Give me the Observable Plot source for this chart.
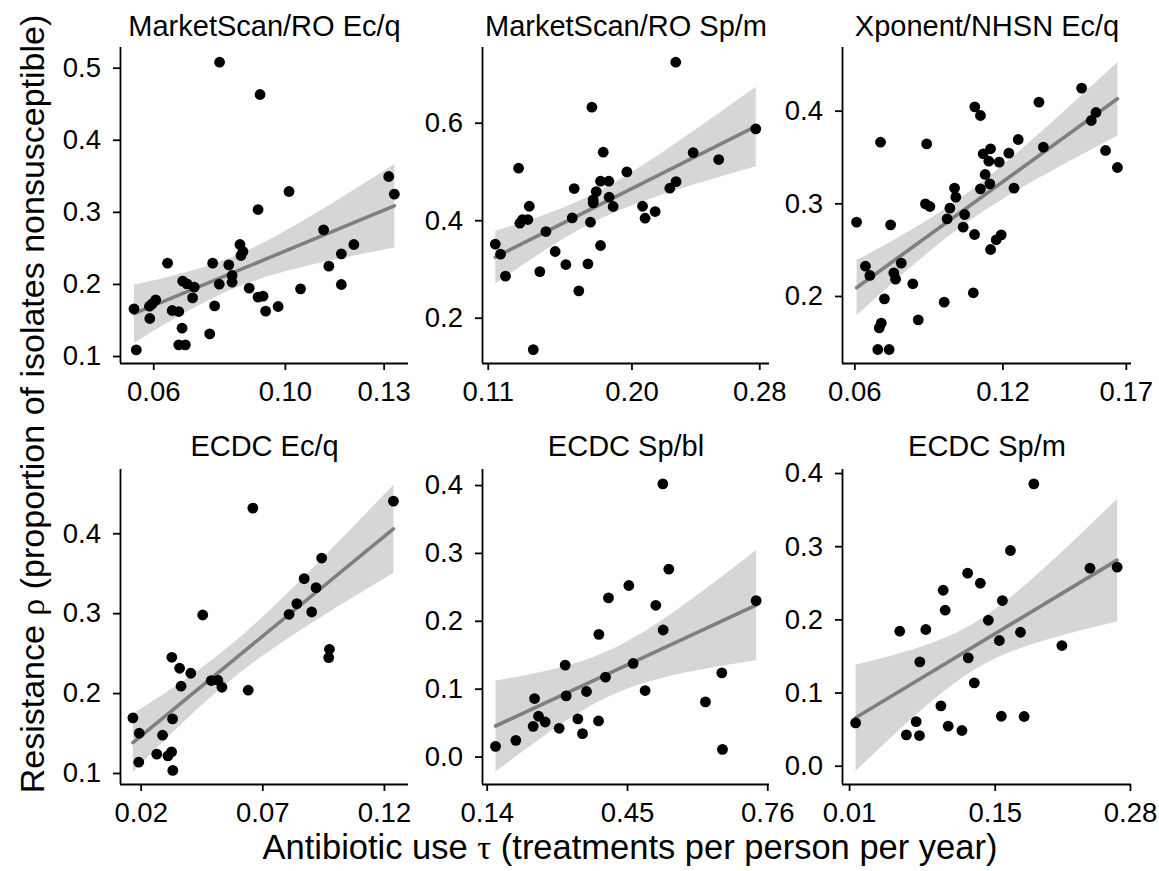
<!DOCTYPE html>
<html><head><meta charset="utf-8">
<script src="https://cdn.jsdelivr.net/npm/d3@7"></script>
<script src="https://cdn.jsdelivr.net/npm/@observablehq/plot@0.6"></script>
<style>
html,body{margin:0;padding:0;background:#fff;}
#chart{position:relative;width:1159px;height:871px;overflow:hidden;background:#fff;}
#chart svg{position:absolute;}
</style></head><body><div id="chart"></div>
<script>
const FONT = "'Liberation Sans', Arial, Helvetica, sans-serif";
const SERIF = "'Liberation Serif', 'DejaVu Serif', serif";

const titles = ["MarketScan/RO Ec/q", "MarketScan/RO Sp/m", "Xponent/NHSN Ec/q", "ECDC Ec/q", "ECDC Sp/bl", "ECDC Sp/m"];
const xLabelParts = ["Antibiotic use ", "τ", " (treatments per person per year)"];
const yLabelParts = ["Resistance ", "ρ", " (proportion of isolates nonsusceptible)"];

const p1x = [0.0800,0.0923,0.1314,0.1331,0.1011,0.0917,0.1116,0.0862,0.1208,0.0871,0.0865,0.1170,0.0642,0.0779,0.0828,0.1132,0.0838,0.0838,0.0688,0.0701,0.0723,0.0799,0.0890,0.1170,0.1046,0.0718,0.0606,0.0595,0.0587,0.0540,0.0917,0.0932,0.0940,0.0978,0.0785,0.0656,0.0676,0.0588,0.0686,0.0770,0.0676,0.0696,0.0547];
const p1y = [0.5083,0.4635,0.3497,0.3252,0.3289,0.3039,0.2757,0.2554,0.2554,0.2457,0.2401,0.2424,0.2295,0.2295,0.2272,0.2253,0.2124,0.2031,0.2045,0.2008,0.1962,0.2003,0.1948,0.1999,0.1939,0.1814,0.1786,0.1731,0.1698,0.1661,0.1823,0.1837,0.1629,0.1694,0.1703,0.1638,0.1624,0.1527,0.1393,0.1314,0.1162,0.1162,0.1092];

const p2x = [0.2274,0.1749,0.2775,0.1290,0.1820,0.2383,0.2543,0.1968,0.1803,0.1855,0.2276,0.2237,0.1638,0.1776,0.1857,0.1757,0.1757,0.1882,0.2066,0.1357,0.2145,0.2082,0.1626,0.1315,0.1348,0.1298,0.1740,0.1461,0.1144,0.1803,0.1177,0.1519,0.1586,0.1724,0.1208,0.1423,0.1667,0.1382];
const p2y = [0.7251,0.6328,0.5884,0.5077,0.5405,0.5398,0.5255,0.5002,0.4810,0.4810,0.4803,0.4667,0.4660,0.4598,0.4482,0.4427,0.4366,0.4291,0.4297,0.4297,0.4188,0.4051,0.4058,0.4024,0.4024,0.3949,0.3969,0.3778,0.3518,0.3491,0.3313,0.3368,0.3101,0.3115,0.2862,0.2957,0.2561,0.1357];

const p3x = [0.1519,0.1346,0.1086,0.1109,0.1577,0.1558,0.0704,0.0891,0.1262,0.1364,0.1616,0.1664,0.1150,0.1120,0.1224,0.1143,0.1185,0.1128,0.1147,0.1109,0.1245,0.1004,0.1009,0.0886,0.0904,0.0985,0.0974,0.1045,0.1039,0.1085,0.1193,0.1173,0.1150,0.0607,0.0745,0.0643,0.0661,0.0788,0.0758,0.0765,0.0835,0.0720,0.1080,0.0962,0.0857,0.0707,0.0699,0.0693,0.0739];
const p3y = [0.4248,0.4097,0.4047,0.3953,0.3986,0.3899,0.3665,0.3647,0.3694,0.3612,0.3576,0.3392,0.3594,0.3540,0.3547,0.3460,0.3450,0.3317,0.3216,0.3162,0.3169,0.3169,0.3072,0.3000,0.2971,0.2953,0.2838,0.2885,0.2748,0.2669,0.2665,0.2612,0.2507,0.2802,0.2773,0.2327,0.2227,0.2360,0.2255,0.2187,0.2137,0.1975,0.2040,0.1939,0.1748,0.1712,0.1662,0.1428,0.1428];

const p4x = [0.1237,0.0659,0.0942,0.0870,0.0919,0.0840,0.0808,0.0901,0.0453,0.0974,0.0971,0.0326,0.0358,0.0404,0.0364,0.0488,0.0515,0.0532,0.0640,0.0166,0.0329,0.0192,0.0288,0.0264,0.0310,0.0325,0.0190,0.0330];
const p4y = [0.4408,0.4321,0.3696,0.3438,0.3325,0.3125,0.2992,0.3021,0.2983,0.2554,0.2450,0.2454,0.2317,0.2254,0.2092,0.2163,0.2167,0.2079,0.2042,0.1696,0.1683,0.1504,0.1479,0.1242,0.1221,0.1271,0.1142,0.1038];

const p5x = [0.5281,0.5413,0.4530,0.4080,0.7343,0.5126,0.5288,0.3867,0.4625,0.3123,0.6584,0.4014,0.4890,0.3594,0.3145,0.2446,0.6223,0.2534,0.2681,0.2416,0.2991,0.3403,0.3860,0.3506,0.2033,0.1584,0.6599];
const p5y = [0.4025,0.2768,0.2527,0.2345,0.2305,0.2236,0.1872,0.1808,0.1379,0.1355,0.1241,0.1177,0.0980,0.0966,0.0901,0.0862,0.0813,0.0601,0.0517,0.0453,0.0424,0.0562,0.0532,0.0345,0.0246,0.0158,0.0113];

const p6x = [0.1871,0.1646,0.2411,0.2672,0.1235,0.1357,0.1000,0.1569,0.1019,0.1434,0.0582,0.0833,0.1743,0.1540,0.2141,0.0775,0.1241,0.1299,0.0978,0.1559,0.1778,0.0158,0.0740,0.1048,0.1180,0.0646,0.0772];
const p6y = [0.3859,0.2948,0.2706,0.2720,0.2638,0.2501,0.2405,0.2264,0.2132,0.1995,0.1845,0.1868,0.1831,0.1718,0.1649,0.1426,0.1481,0.1139,0.0825,0.0683,0.0679,0.0592,0.0610,0.0547,0.0488,0.0428,0.0419];

const xTicks = [[0.06,0.10,0.13],[0.11,0.20,0.28],[0.06,0.12,0.17],[0.02,0.07,0.12],[0.14,0.45,0.76],[0.01,0.15,0.28]];
const yTicks = [[0.1,0.2,0.3,0.4,0.5],[0.2,0.4,0.6],[0.2,0.3,0.4],[0.1,0.2,0.3,0.4],[0.0,0.1,0.2,0.3,0.4],[0.0,0.1,0.2,0.3,0.4]];

const xs = [p1x,p2x,p3x,p4x,p5x,p6x];
const ys = [p1y,p2y,p3y,p4y,p5y,p6y];

// scale domains (ggplot-style expanded ranges)
const xDomains = [[0.0499,0.1374],[0.1064,0.2861],[0.0550,0.1721],[0.0115,0.1299],[0.1296,0.7638],[0.0032,0.2810]];
const yDomains = [[0.0903,0.5287],[0.1071,0.7553],[0.1277,0.4687],[0.0862,0.4804],[-0.0404,0.4236],[-0.025,0.4055]];

// layout
const colLeft = [120,482,842], colW = [288,287,289];
const rowTop = [47,469], rowH = [316,315], titleGap = [12,14];
const mL = 110, mR = 26, mT = 50, mB = 60;

const chart = document.getElementById("chart");

for (let i = 0; i < 6; i++) {
  const r = Math.floor(i/3), c = i % 3;
  const data = xs[i].map((x, k) => ({x, y: ys[i][k]}));
  const xd = xDomains[i], yd = yDomains[i];
  const svg = Plot.plot({
    width: mL + colW[c] + mR,
    height: mT + rowH[r] + mB,
    marginLeft: mL, marginRight: mR, marginTop: mT, marginBottom: mB,
    style: {fontFamily: FONT, fontSize: "27.5px", color: "#000", background: "transparent", overflow: "visible"},
    x: {domain: xd},
    y: {domain: yd},
    marks: [
      Plot.linearRegressionY(data, {x: "x", y: "y", ci: 0.95, stroke: "#7f7f7f", strokeWidth: 3.6, fill: "#999999", fillOpacity: 0.4}),
      Plot.dot(data, {x: "x", y: "y", r: 5.4, fill: "#000"}),
      Plot.ruleX([xd[0]], {stroke: "#000", strokeWidth: 1.8}),
      Plot.ruleY([yd[0]], {stroke: "#000", strokeWidth: 1.8}),
      Plot.axisX(xTicks[i], {tickSize: 7, tickPadding: 10.5, tickFormat: d3.format(".2f"), strokeWidth: 1.8, label: null, fontSize: 27.5}),
      Plot.axisY(yTicks[i], {tickSize: 7, tickPadding: 12.5, tickFormat: d3.format(".1f"), strokeWidth: 1.8, label: null, fontSize: 27.5}),
      Plot.text([titles[i]], {frameAnchor: "top", dy: -titleGap[r], lineAnchor: "bottom", fontSize: 29})
    ]
  });
  svg.style.left = (colLeft[c] - mL) + "px";
  svg.style.top = (rowTop[r] - mT) + "px";
  chart.appendChild(svg);
}

// overall axis titles
const ov = d3.select(chart).append("svg")
  .attr("width", 1159).attr("height", 871)
  .style("left", "0px").style("top", "0px")
  .style("font-family", FONT);

function addLabel(parts, size, attrs) {
  const t = ov.append("text").attr("text-anchor", "middle").attr("fill", "#000").style("font-size", size + "px");
  for (const [k, v] of Object.entries(attrs)) t.attr(k, v);
  parts.forEach((s, j) => {
    const ts = t.append("tspan").text(s);
    if (j === 1) ts.style("font-family", SERIF);
  });
  return t;
}
addLabel(xLabelParts, 34.5, {x: 630, y: 858.5});
addLabel(yLabelParts, 34, {transform: "translate(44,404) rotate(-90)"});
</script>
</body></html>
